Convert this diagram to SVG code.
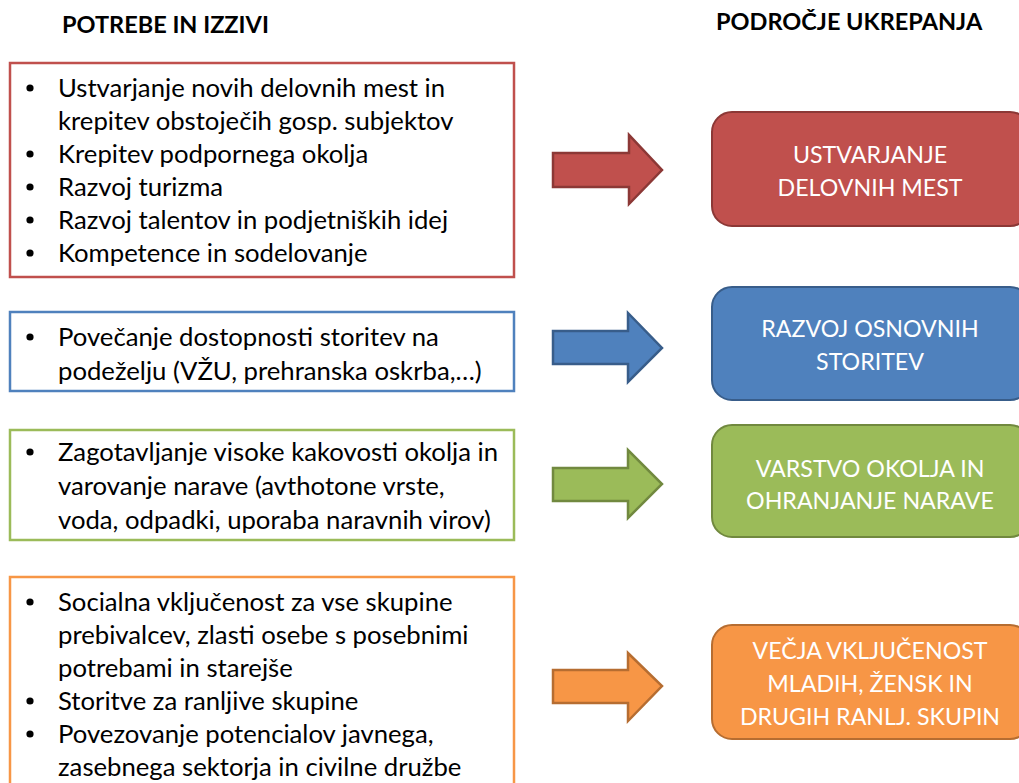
<svg xmlns="http://www.w3.org/2000/svg" width="1019" height="783" viewBox="0 0 1019 783">
<style>
.hdr{font-family:Lato,"Liberation Sans",sans-serif;font-weight:bold;font-size:23.5px;fill:#000}
.lt{font-family:Lato,"Liberation Sans",sans-serif;font-size:25.7px;fill:#000}
.rt{font-family:Lato,"Liberation Sans",sans-serif;font-size:23.2px;fill:#fff;text-anchor:middle}
.lb{fill:#fff;stroke-width:2.5}
.ar{stroke-width:2.5;stroke-linejoin:miter}
</style>
<rect width="1019" height="783" fill="#fff"/>
<g id="headers">
<text class="hdr" x="62" y="33">POTREBE IN IZZIVI</text>
<text class="hdr" x="716" y="30">PODROČJE UKREPANJA</text>
</g>
<g id="need1">
<rect class="lb" x="10" y="63" width="504" height="214" stroke="#c0504d"/>
<text class="lt"><tspan x="58" y="97">Ustvarjanje novih delovnih mest in</tspan><tspan x="58" y="130">krepitev obstoječih gosp. subjektov</tspan><tspan x="58" y="163">Krepitev podpornega okolja</tspan><tspan x="58" y="196">Razvoj turizma</tspan><tspan x="58" y="229">Razvoj talentov in podjetniških idej</tspan><tspan x="58" y="262">Kompetence in sodelovanje</tspan></text>
<g fill="#000"><circle cx="30" cy="88" r="3.6"/><circle cx="30" cy="154" r="3.6"/><circle cx="30" cy="187" r="3.6"/><circle cx="30" cy="220" r="3.6"/><circle cx="30" cy="253" r="3.6"/></g>
</g>
<g id="need2">
<rect class="lb" x="10" y="312" width="504" height="79" stroke="#4f81bd"/>
<text class="lt"><tspan x="58" y="346">Povečanje dostopnosti storitev na</tspan><tspan x="58" y="380">podeželju (VŽU, prehranska oskrba,…)</tspan></text>
<circle cx="30" cy="337" r="3.6"/>
</g>
<g id="need3">
<rect class="lb" x="10" y="430" width="504" height="110" stroke="#9bbb59"/>
<text class="lt"><tspan x="58" y="461">Zagotavljanje visoke kakovosti okolja in</tspan><tspan x="58" y="495">varovanje narave (avthotone vrste,</tspan><tspan x="58" y="529">voda, odpadki, uporaba naravnih virov)</tspan></text>
<circle cx="30" cy="452" r="3.6"/>
</g>
<g id="need4">
<rect class="lb" x="10" y="577" width="504" height="230" stroke="#f79646"/>
<text class="lt"><tspan x="58" y="611">Socialna vključenost za vse skupine</tspan><tspan x="58" y="644">prebivalcev, zlasti osebe s posebnimi</tspan><tspan x="58" y="677">potrebami in starejše</tspan><tspan x="58" y="710">Storitve za ranljive skupine</tspan><tspan x="58" y="743">Povezovanje potencialov javnega,</tspan><tspan x="58" y="776">zasebnega sektorja in civilne družbe</tspan></text>
<g fill="#000"><circle cx="30" cy="602" r="3.6"/><circle cx="30" cy="701" r="3.6"/><circle cx="30" cy="734" r="3.6"/></g>
</g>
<g id="connectors">
<path class="ar" d="M553,153 H629 V135 L662,170 L629,204 V187 H553 Z" fill="#c0504d" stroke="#8c3836"/>
<path class="ar" d="M553,331 H628 V313 L662,348 L628,382 V364 H553 Z" fill="#4f81bd" stroke="#385d8a"/>
<path class="ar" d="M553,468 H628 V450 L662,484 L628,518 V501 H553 Z" fill="#9bbb59" stroke="#71893f"/>
<path class="ar" d="M553,670 H628 V653 L662,686 L628,721 V703 H553 Z" fill="#f79646" stroke="#b66d31"/>
</g>
<g id="area1">
<rect x="712" y="112" width="318" height="114" rx="20" fill="#c0504d" stroke="#8c3836" stroke-width="2"/>
<text class="rt"><tspan x="870" y="163">USTVARJANJE</tspan><tspan x="870" y="196">DELOVNIH MEST</tspan></text>
</g>
<g id="area2">
<rect x="712" y="287" width="318" height="113" rx="20" fill="#4f81bd" stroke="#385d8a" stroke-width="2"/>
<text class="rt"><tspan x="870" y="337">RAZVOJ OSNOVNIH</tspan><tspan x="870" y="370">STORITEV</tspan></text>
</g>
<g id="area3">
<rect x="712" y="425" width="318" height="112" rx="20" fill="#9bbb59" stroke="#71893f" stroke-width="2"/>
<text class="rt"><tspan x="870" y="477">VARSTVO OKOLJA IN</tspan><tspan x="870" y="509">OHRANJANJE NARAVE</tspan></text>
</g>
<g id="area4">
<rect x="712" y="625" width="318" height="114" rx="20" fill="#f79646" stroke="#b66d31" stroke-width="2"/>
<text class="rt"><tspan x="870" y="659">VEČJA VKLJUČENOST</tspan><tspan x="870" y="692">MLADIH, ŽENSK IN</tspan><tspan x="870" y="725">DRUGIH RANLJ. SKUPIN</tspan></text>
</g>
</svg>
